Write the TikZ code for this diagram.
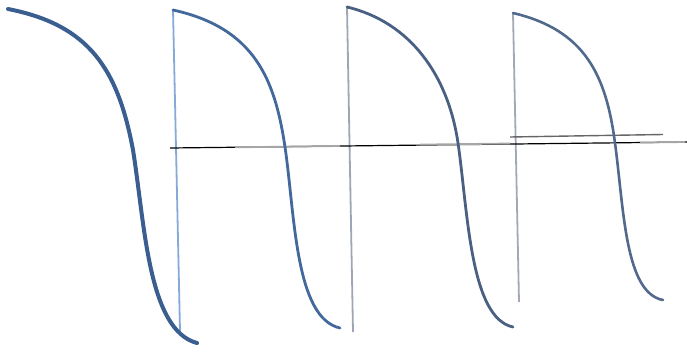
\documentclass[tikz,border=0pt]{standalone}
\usepackage{tikz}
\definecolor{thickblue}{HTML}{3A5E90}
\definecolor{curveA}{HTML}{42689C}
\definecolor{curveB}{HTML}{4A6083}
\definecolor{curveC}{HTML}{51698C}
\definecolor{vertA}{HTML}{86AAD8}
\definecolor{vertB}{HTML}{9EA6B6}
\definecolor{vertC}{HTML}{A2A9B5}
\tikzset{
  wave/.style={line cap=round, line join=round},
  baseline/.style={black, line width=1.2pt}
}
\begin{document}
\begin{tikzpicture}[x=1pt,y=-1pt]
\useasboundingbox (0,0) rectangle (687,351);
% vertical lines
\draw[vertA, line width=1.8pt] (173,10) -- (180,331);
\draw[vertB, line width=1.8pt] (347,7) -- (353,332);
\draw[vertC, line width=1.8pt] (513,13) -- (519,302);
% horizontal baseline
\draw[baseline] (170,148) -- (687,142);
\draw[gray!70, line width=1.8pt] (235,147.3) -- (340,146);
\draw[gray!70, line width=1.8pt] (420,144.6) -- (510,143.5);
\draw[gray!70, line width=1.8pt] (640,142.6) -- (685,142);
\draw[gray!80!black, line width=1.4pt] (510,137) -- (663,134.5);
% thick first curve
\draw[thickblue, line width=4pt, wave]
  (8,9) .. controls (90,25) and (118,70) .. (133,150)
        .. controls (145,225) and (148,330) .. (197,343);
% second curve
\draw[curveA, line width=2.8pt, wave]
  (173,10) .. controls (255,28) and (275,80) .. (285,147)
           .. controls (295,215) and (295,318) .. (340,328);
% third curve
\draw[curveB, line width=2.8pt, wave]
  (347,7) .. controls (410,22) and (448,75) .. (458,143)
          .. controls (468,212) and (470,318) .. (513,327);
% fourth curve
\draw[curveC, line width=2.6pt, wave]
  (513,13) .. controls (585,30) and (606,75) .. (615,143)
           .. controls (624,210) and (625,293) .. (663,300);
\end{tikzpicture}
\end{document}
